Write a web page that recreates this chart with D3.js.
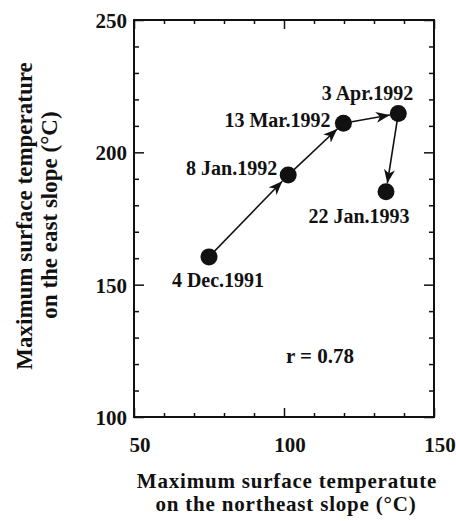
<!DOCTYPE html>
<html>
<head>
<meta charset="utf-8">
<script src="https://cdn.jsdelivr.net/npm/d3@7"></script>
<style>
  body { margin: 0; background: #fff; }
  svg text { font-family: "Liberation Serif", "Times New Roman", serif; font-weight: bold; fill: #111; }
</style>
</head>
<body>
<div id="chart"></div>
<script>
// values
const dates = ["4 Dec.1991", "8 Jan.1992", "13 Mar.1992", "3 Apr.1992", "22 Jan.1993"];
const northeast = [75, 101.4, 119.8, 138.1, 134];
const east = [160.5, 191.4, 211, 214.7, 185.1];
const xTickLabels = [50, 100, 150];
const yTickLabels = [100, 150, 200, 250];
const rText = "r = 0.78";

const width = 456, height = 521;
const plotLeft = 134, plotRight = 434, plotTop = 20, plotBottom = 417;

const svg = d3.select("#chart").append("svg")
    .attr("width", width)
    .attr("height", height)
    .attr("viewBox", `0 0 ${width} ${height}`);

const x = d3.scaleLinear().domain([50, 150]).range([plotLeft, plotRight]);
const y = d3.scaleLinear().domain([100, 250]).range([plotBottom, plotTop]);

const pts = dates.map((d, i) => ({ label: d, px: x(northeast[i]), py: y(east[i]) }));

// inward ticks on all four sides, longer every 50
function ticks(axis, g) {
    g.call(axis);
    g.select(".domain").remove();
    g.selectAll(".tick text").remove();
    g.selectAll(".tick line")
        .attr("stroke", "#111")
        .attr("stroke-width", 1.5);
    return g;
}
const xt = d3.range(50, 151, 10), yt = d3.range(100, 251, 10);

const gb = svg.append("g").attr("transform", `translate(0,${plotBottom})`);
ticks(d3.axisBottom(x).tickValues(xt).tickSize(-4), gb);
gb.selectAll(".tick line").filter(d => d % 50 === 0).attr("y2", -9);

const gt = svg.append("g").attr("transform", `translate(0,${plotTop})`);
ticks(d3.axisTop(x).tickValues(xt).tickSize(-4), gt);
gt.selectAll(".tick line").filter(d => d % 50 === 0).attr("y2", 9);

const gl = svg.append("g").attr("transform", `translate(${plotLeft},0)`);
ticks(d3.axisLeft(y).tickValues(yt).tickSize(-5), gl);
gl.selectAll(".tick line").filter(d => d % 50 === 0).attr("x2", 10);

const gr = svg.append("g").attr("transform", `translate(${plotRight},0)`);
ticks(d3.axisRight(y).tickValues(yt).tickSize(-5), gr);
gr.selectAll(".tick line").filter(d => d % 50 === 0).attr("x2", -10);

// frame
svg.append("rect")
    .attr("x", plotLeft).attr("y", plotTop)
    .attr("width", plotRight - plotLeft).attr("height", plotBottom - plotTop)
    .attr("fill", "none")
    .attr("stroke", "#111")
    .attr("stroke-width", 2);

// tick labels
svg.append("g").selectAll("text")
    .data(xTickLabels)
    .enter().append("text")
    .attr("x", d => x(d) + 6)
    .attr("y", 452)
    .attr("text-anchor", "middle")
    .attr("font-size", 21)
    .text(d => d);

svg.append("g").selectAll("text")
    .data(yTickLabels)
    .enter().append("text")
    .attr("x", plotLeft - 7)
    .attr("y", d => y(d) + 8)
    .attr("text-anchor", "end")
    .attr("font-size", 21)
    .text(d => d);

// arrows between consecutive dates
const r = 8.5;
svg.append("defs").append("marker")
    .attr("id", "arrowhead")
    .attr("viewBox", "0 -6 14 12")
    .attr("refX", 14)
    .attr("refY", 0)
    .attr("markerUnits", "userSpaceOnUse")
    .attr("markerWidth", 14)
    .attr("markerHeight", 12)
    .attr("orient", "auto")
    .append("path")
    .attr("d", "M0,-5.5 L14,0 L0,5.5 L4,0 Z")
    .attr("fill", "#111");

const links = d3.pairs(pts);
function endPoint(d, k) {
    const dx = d[1].px - d[0].px, dy = d[1].py - d[0].py, len = Math.hypot(dx, dy);
    return k === "x" ? d[1].px - dx / len * r : d[1].py - dy / len * r;
}
svg.append("g").selectAll("line")
    .data(links)
    .enter().append("line")
    .attr("x1", d => d[0].px)
    .attr("y1", d => d[0].py)
    .attr("x2", d => endPoint(d, "x"))
    .attr("y2", d => endPoint(d, "y"))
    .attr("stroke", "#111")
    .attr("stroke-width", 1.6)
    .attr("marker-end", "url(#arrowhead)");

svg.append("g").selectAll("circle")
    .data(pts)
    .enter().append("circle")
    .attr("cx", d => d.px)
    .attr("cy", d => d.py)
    .attr("r", r)
    .attr("fill", "#111");

// date labels, placed beside each point
const labelPlace = [
    { dx: 9, dy: 30, anchor: "middle" },
    { dx: -11, dy: 0, anchor: "end" },
    { dx: -13, dy: 4, anchor: "end" },
    { dx: 15, dy: -13, anchor: "end" },
    { dx: -27, dy: 31, anchor: "middle" }
];
svg.append("g").selectAll("text")
    .data(pts)
    .enter().append("text")
    .attr("x", (d, i) => d.px + labelPlace[i].dx)
    .attr("y", (d, i) => d.py + labelPlace[i].dy)
    .attr("text-anchor", (d, i) => labelPlace[i].anchor)
    .attr("font-size", 20)
    .text(d => d.label);

svg.append("text")
    .attr("x", x(112))
    .attr("y", y(120.4))
    .attr("text-anchor", "middle")
    .attr("font-size", 21)
    .text(rText);

// axis titles
const xTitle = svg.append("g")
    .attr("font-size", 21)
    .attr("letter-spacing", 0.8);
xTitle.append("text").attr("x", 287).attr("y", 488).attr("text-anchor", "middle")
    .text("Maximum surface temperatute");
xTitle.append("text").attr("x", 286).attr("y", 511).attr("text-anchor", "middle")
    .text("on the northeast slope (°C)");

const yTitle = svg.append("g")
    .attr("font-size", 23)
    .attr("transform", "rotate(-90)");
yTitle.append("text").attr("x", -216).attr("y", 32).attr("text-anchor", "middle")
    .text("Maximum surface temperature");
yTitle.append("text").attr("x", -215).attr("y", 57).attr("text-anchor", "middle")
    .text("on the east slope (°C)");
</script>
</body>
</html>
